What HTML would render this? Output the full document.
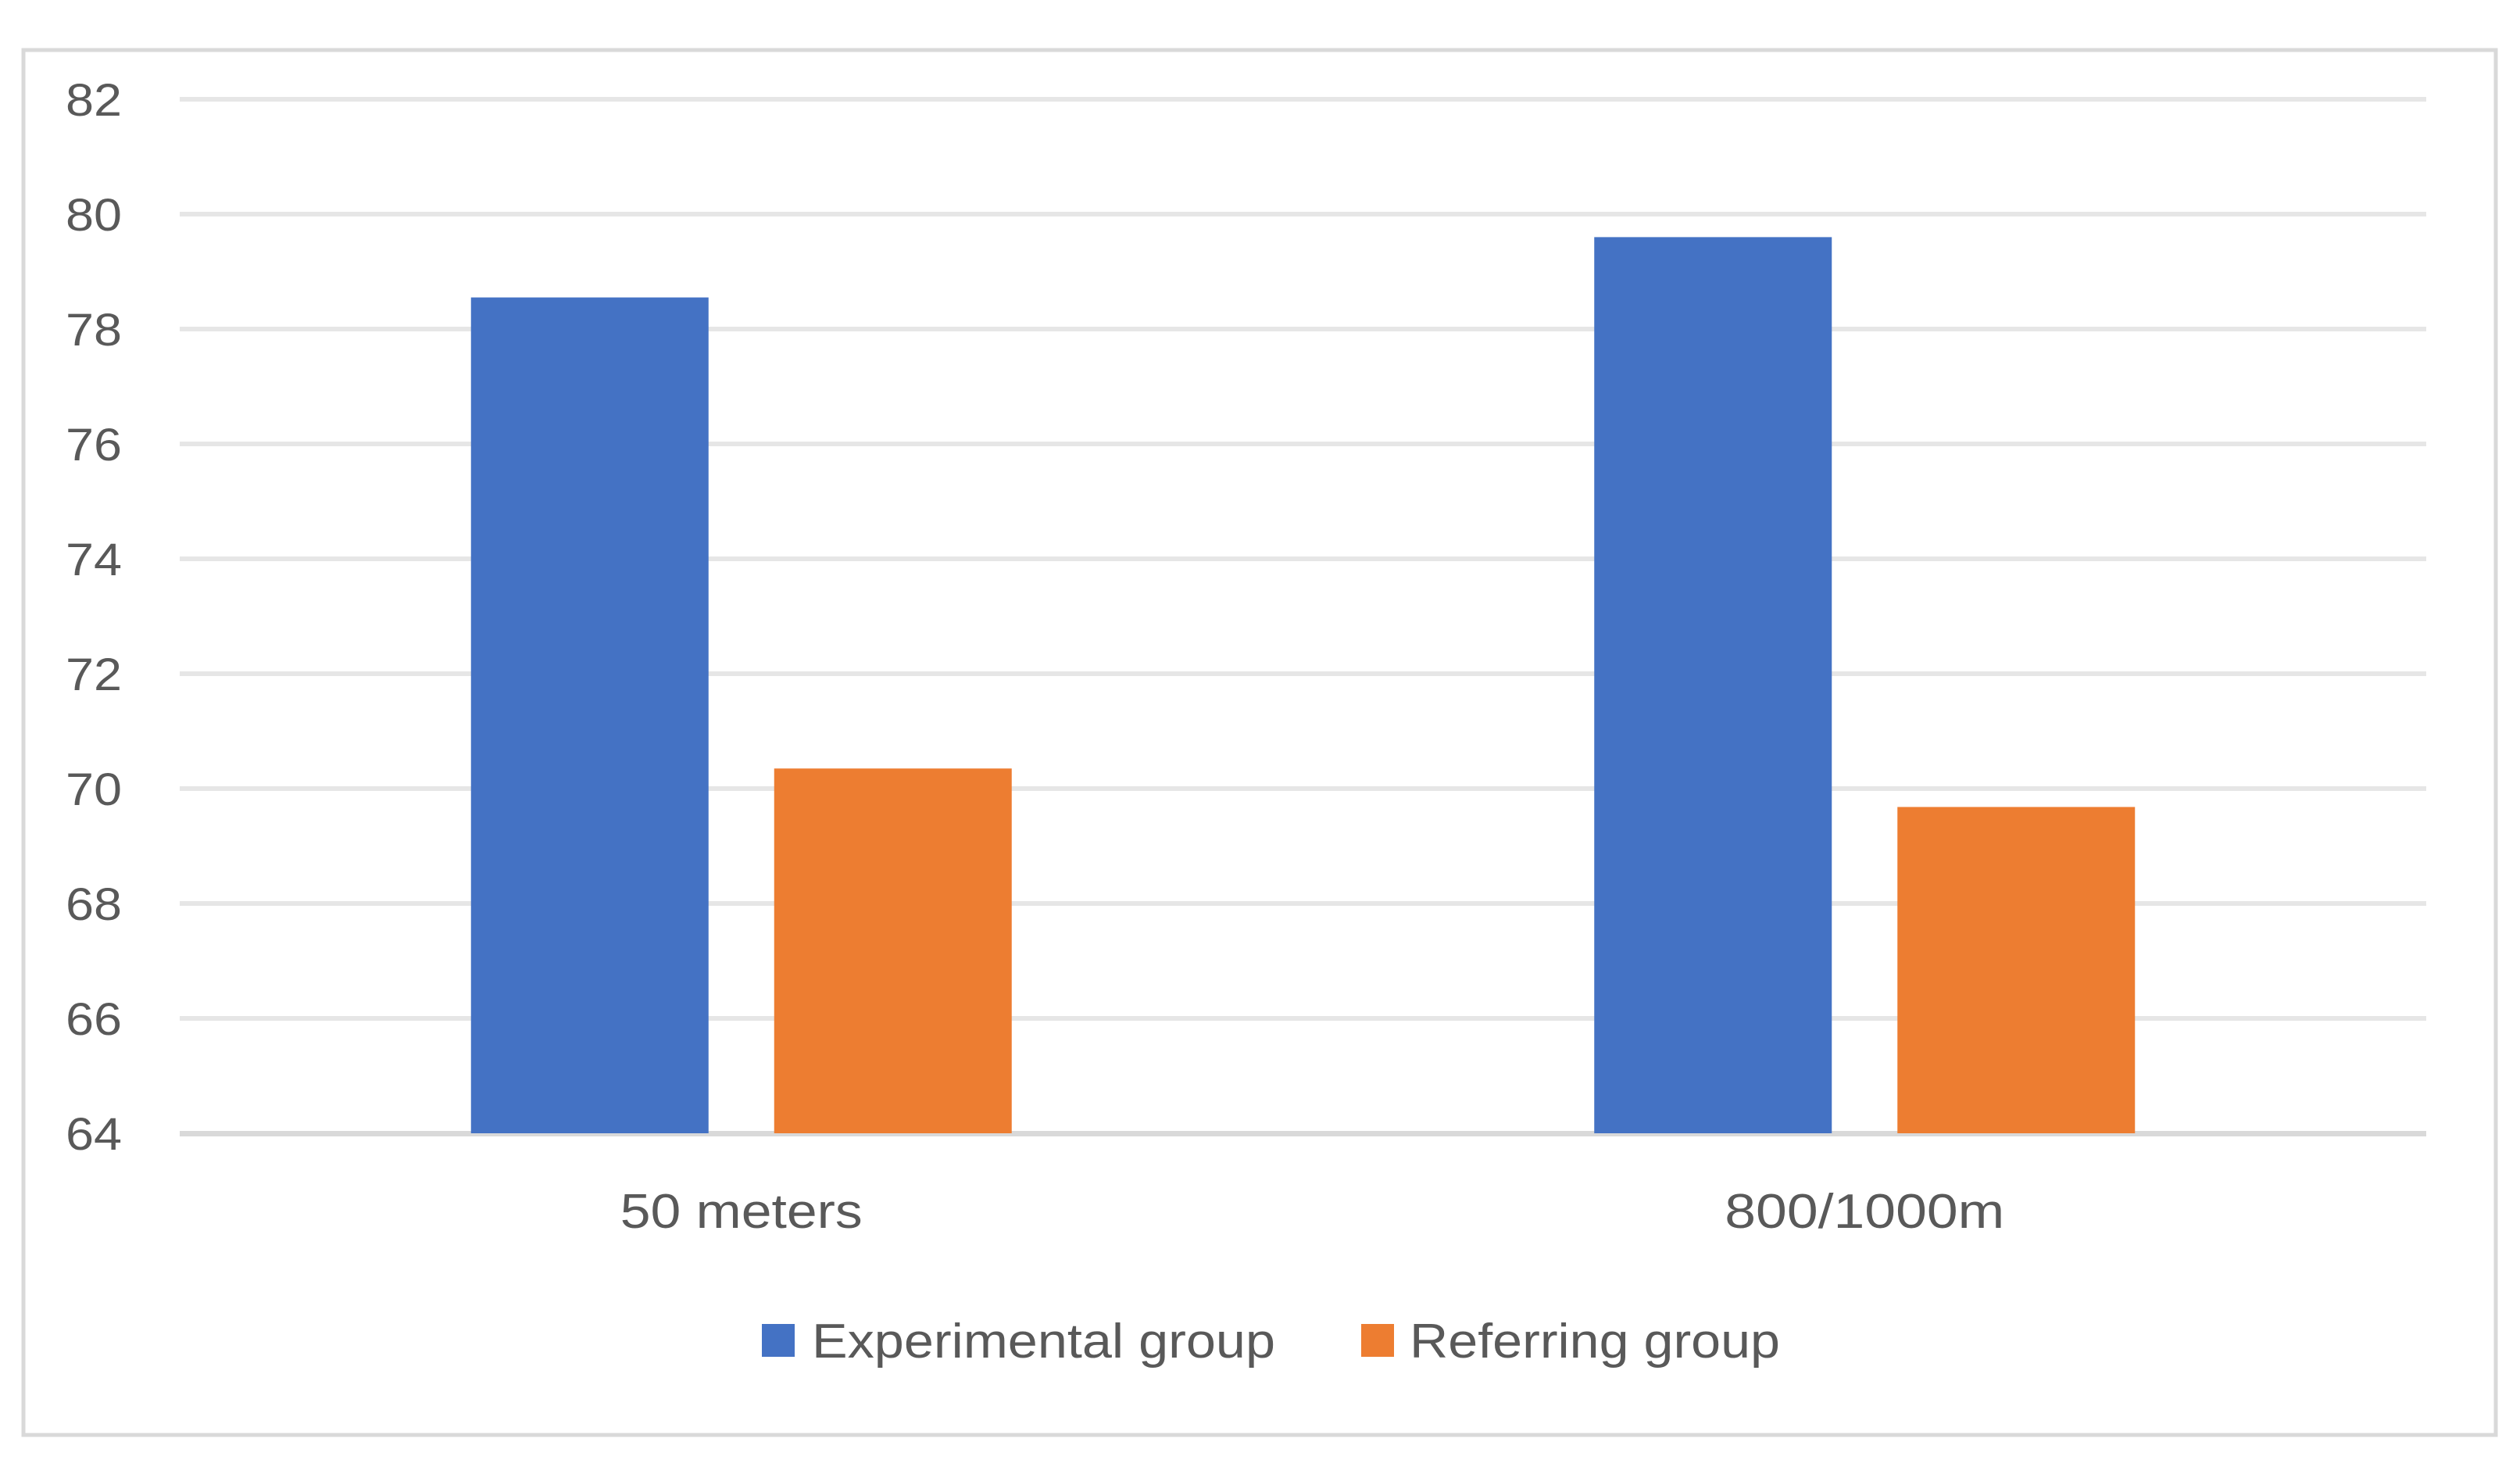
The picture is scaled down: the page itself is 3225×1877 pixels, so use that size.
<!DOCTYPE html>
<html><head><meta charset="utf-8"><style>
html,body{margin:0;padding:0;background:#fff;}
svg text{font-family:"Liberation Sans",sans-serif;fill:#595959;}
</style></head><body>
<svg id="chart" width="3225" height="1872" xmlns="http://www.w3.org/2000/svg">
<rect x="30" y="64" width="3164" height="1772" fill="#fff" stroke="#d9d9d9" stroke-width="5"/>
<g id="grid"></g><g id="bars"></g><g id="labels"></g>
<g>
<rect x="975" y="1694" width="42" height="42" fill="#4472c4"/>
<text x="1039" y="1737" font-size="62" textLength="593" lengthAdjust="spacingAndGlyphs">Experimental group</text>
<rect x="1742" y="1694" width="42" height="42" fill="#ed7d31"/>
<text x="1804" y="1737" font-size="62" textLength="474" lengthAdjust="spacingAndGlyphs">Referring group</text>
</g>
</svg>
<script>
const categories = ["50 meters", "800/1000m"];
const experimental = [78.55, 79.6];
const referring = [70.35, 69.68];
const yTicks = [64, 66, 68, 70, 72, 74, 76, 78, 80, 82];
const catWidths = [310, 358];

const NS = "http://www.w3.org/2000/svg";
const x0 = 230, x1 = 3105, yTop = 127, yBot = 1450, vMin = 64, vMax = 82;
const y = v => yBot - (v - vMin) / (vMax - vMin) * (yBot - yTop);
const groupW = (x1 - x0) / categories.length;
const grid = document.getElementById('grid'), bars = document.getElementById('bars'), labels = document.getElementById('labels');
function mk(tag, attrs, parent){const e=document.createElementNS(NS,tag);for(const k in attrs)e.setAttribute(k,attrs[k]);parent.appendChild(e);return e;}
yTicks.forEach((t,i)=>{
  const l = mk('rect',{x:x0,y:y(t)-3,width:x1-x0,height:i===0?7:6,fill:i===0?'#d9d9d9':'#e6e6e6'},grid);
  
  
  const tx = mk('text',{x:156,y:y(t)+21,'font-size':58,'text-anchor':'end',textLength:72,lengthAdjust:'spacingAndGlyphs'},labels);
  tx.textContent = t;
  
  
});
const barW = 304, gap = 84;
categories.forEach((c,i)=>{
  const cx = x0 + groupW*(i+0.5);
  const series = [[experimental[i],'#4472c4','bar-experimental'],[referring[i],'#ed7d31','bar-referring']];
  series.forEach((s,j)=>{
    const bx = cx - gap/2 - barW + j*(barW+gap);
    const r = mk('rect',{x:bx,y:y(s[0]),width:barW,height:yBot-y(s[0]),fill:s[1]},bars);
    
    
  });
  const tx = mk('text',{x:cx,y:1571,'font-size':62,'text-anchor':'middle',textLength:catWidths[i],lengthAdjust:'spacingAndGlyphs'},labels);
  tx.textContent = c;
  
  
});
</script>
</body></html>
